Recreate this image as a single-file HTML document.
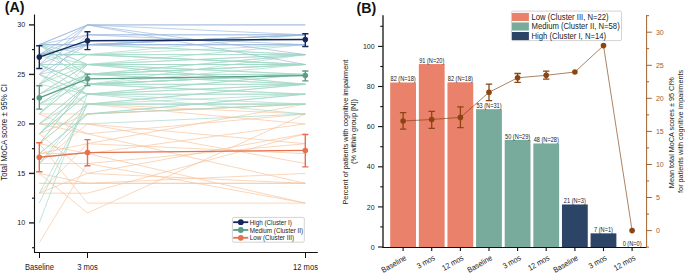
<!DOCTYPE html><html><head><meta charset="utf-8"><style>html,body{margin:0;padding:0;background:#fff;}svg{display:block;}text{font-family:"Liberation Sans", sans-serif;}</style></head><body>
<svg width="685" height="275" viewBox="0 0 685 275">
<rect width="685" height="275" fill="#fff"/>
<text x="4.8" y="11.9" font-size="14.2" font-weight="bold" fill="#111">(A)</text>
<text x="356.6" y="12.7" font-size="14.2" font-weight="bold" fill="#111">(B)</text>
<g fill="none" stroke-width="0.75" stroke-opacity="0.9"><path d="M39.3,143.7L87.45,104.1L305.3,123.9" stroke="#f7c39c"/>
<path d="M39.3,193.2L87.45,193.2L305.3,133.8" stroke="#f7c39c"/>
<path d="M39.3,183.3L87.45,183.3L305.3,183.3" stroke="#f7c39c"/>
<path d="M39.3,183.3L87.45,183.3L305.3,173.4" stroke="#f7c39c"/>
<path d="M39.3,153.6L87.45,143.7L305.3,153.6" stroke="#f7c39c"/>
<path d="M39.3,173.4L87.45,213.0L305.3,114.0" stroke="#f7c39c"/>
<path d="M39.3,133.8L87.45,173.4L305.3,183.3" stroke="#f7c39c"/>
<path d="M39.3,173.4L87.45,183.3L305.3,183.3" stroke="#f7c39c"/>
<path d="M39.3,114.0L87.45,133.8L305.3,183.3" stroke="#f7c39c"/>
<path d="M39.3,114.0L87.45,114.0L305.3,104.1" stroke="#f7c39c"/>
<path d="M39.3,242.7L87.45,163.5L305.3,143.7" stroke="#f7c39c"/>
<path d="M39.3,193.2L87.45,173.4L305.3,133.8" stroke="#f7c39c"/>
<path d="M39.3,193.2L87.45,143.7L305.3,104.1" stroke="#f7c39c"/>
<path d="M39.3,143.7L87.45,153.6L305.3,123.9" stroke="#f7c39c"/>
<path d="M39.3,163.5L87.45,123.9L305.3,163.5" stroke="#f7c39c"/>
<path d="M39.3,123.9L87.45,133.8L305.3,114.0" stroke="#f7c39c"/>
<path d="M39.3,123.9L87.45,123.9L305.3,143.7" stroke="#f7c39c"/>
<path d="M39.3,143.7L87.45,203.1L305.3,203.1" stroke="#f7c39c"/>
<path d="M39.3,133.8L87.45,114.0L305.3,104.1" stroke="#f7c39c"/>
<path d="M39.3,163.5L87.45,163.5L305.3,203.1" stroke="#f7c39c"/>
<path d="M39.3,153.6L87.45,153.6L305.3,203.1" stroke="#f7c39c"/>
<path d="M39.3,104.1L87.45,104.1L305.3,114.0" stroke="#f7c39c"/>
<path d="M39.3,123.9L87.45,94.2L305.3,94.2" stroke="#a2d8c6"/>
<path d="M39.3,44.7L87.45,74.4L305.3,74.4" stroke="#a2d8c6"/>
<path d="M39.3,84.3L87.45,54.6L305.3,64.5" stroke="#a2d8c6"/>
<path d="M39.3,123.9L87.45,84.3L305.3,74.4" stroke="#a2d8c6"/>
<path d="M39.3,44.7L87.45,64.5L305.3,74.4" stroke="#a2d8c6"/>
<path d="M39.3,74.4L87.45,104.1L305.3,104.1" stroke="#a2d8c6"/>
<path d="M39.3,104.1L87.45,104.1L305.3,84.3" stroke="#a2d8c6"/>
<path d="M39.3,74.4L87.45,64.5L305.3,64.5" stroke="#a2d8c6"/>
<path d="M39.3,163.5L87.45,104.1L305.3,104.1" stroke="#a2d8c6"/>
<path d="M39.3,203.1L87.45,104.1L305.3,84.3" stroke="#a2d8c6"/>
<path d="M39.3,222.9L87.45,94.2L305.3,94.2" stroke="#a2d8c6"/>
<path d="M39.3,64.5L87.45,64.5L305.3,44.7" stroke="#a2d8c6"/>
<path d="M39.3,54.6L87.45,74.4L305.3,64.5" stroke="#a2d8c6"/>
<path d="M39.3,84.3L87.45,54.6L305.3,34.8" stroke="#a2d8c6"/>
<path d="M39.3,54.6L87.45,54.6L305.3,54.6" stroke="#a2d8c6"/>
<path d="M39.3,64.5L87.45,84.3L305.3,84.3" stroke="#a2d8c6"/>
<path d="M39.3,54.6L87.45,54.6L305.3,44.7" stroke="#a2d8c6"/>
<path d="M39.3,143.7L87.45,84.3L305.3,74.4" stroke="#a2d8c6"/>
<path d="M39.3,74.4L87.45,94.2L305.3,114.0" stroke="#a2d8c6"/>
<path d="M39.3,114.0L87.45,74.4L305.3,74.4" stroke="#a2d8c6"/>
<path d="M39.3,64.5L87.45,84.3L305.3,94.2" stroke="#a2d8c6"/>
<path d="M39.3,64.5L87.45,84.3L305.3,54.6" stroke="#a2d8c6"/>
<path d="M39.3,74.4L87.45,94.2L305.3,74.4" stroke="#a2d8c6"/>
<path d="M39.3,64.5L87.45,94.2L305.3,74.4" stroke="#a2d8c6"/>
<path d="M39.3,114.0L87.45,74.4L305.3,84.3" stroke="#a2d8c6"/>
<path d="M39.3,54.6L87.45,54.6L305.3,64.5" stroke="#a2d8c6"/>
<path d="M39.3,94.2L87.45,74.4L305.3,84.3" stroke="#a2d8c6"/>
<path d="M39.3,153.6L87.45,114.0L305.3,94.2" stroke="#a2d8c6"/>
<path d="M39.3,94.2L87.45,64.5L305.3,54.6" stroke="#a2d8c6"/>
<path d="M39.3,123.9L87.45,123.9L305.3,114.0" stroke="#a2d8c6"/>
<path d="M39.3,44.7L87.45,44.7L305.3,34.8" stroke="#a2d8c6"/>
<path d="M39.3,104.1L87.45,74.4L305.3,54.6" stroke="#a2d8c6"/>
<path d="M39.3,153.6L87.45,114.0L305.3,104.1" stroke="#a2d8c6"/>
<path d="M39.3,143.7L87.45,84.3L305.3,64.5" stroke="#a2d8c6"/>
<path d="M39.3,54.6L87.45,44.7L305.3,54.6" stroke="#a2d8c6"/>
<path d="M39.3,133.8L87.45,84.3L305.3,74.4" stroke="#a2d8c6"/>
<path d="M39.3,54.6L87.45,64.5L305.3,84.3" stroke="#a2d8c6"/>
<path d="M39.3,44.7L87.45,54.6L305.3,64.5" stroke="#a2d8c6"/>
<path d="M39.3,54.6L87.45,54.6L305.3,54.6" stroke="#a2d8c6"/>
<path d="M39.3,44.7L87.45,74.4L305.3,54.6" stroke="#a2d8c6"/>
<path d="M39.3,104.1L87.45,84.3L305.3,74.4" stroke="#a2d8c6"/>
<path d="M39.3,104.1L87.45,74.4L305.3,64.5" stroke="#a2d8c6"/>
<path d="M39.3,84.3L87.45,94.2L305.3,84.3" stroke="#a2d8c6"/>
<path d="M39.3,44.7L87.45,44.7L305.3,54.6" stroke="#a2d8c6"/>
<path d="M39.3,114.0L87.45,64.5L305.3,84.3" stroke="#a2d8c6"/>
<path d="M39.3,44.7L87.45,84.3L305.3,84.3" stroke="#a2d8c6"/>
<path d="M39.3,193.2L87.45,104.1L305.3,94.2" stroke="#a2d8c6"/>
<path d="M39.3,44.7L87.45,64.5L305.3,64.5" stroke="#a2d8c6"/>
<path d="M39.3,123.9L87.45,84.3L305.3,94.2" stroke="#a2d8c6"/>
<path d="M39.3,143.7L87.45,104.1L305.3,104.1" stroke="#a2d8c6"/>
<path d="M39.3,64.5L87.45,64.5L305.3,74.4" stroke="#a2d8c6"/>
<path d="M39.3,133.8L87.45,84.3L305.3,74.4" stroke="#a2d8c6"/>
<path d="M39.3,84.3L87.45,64.5L305.3,54.6" stroke="#a2d8c6"/>
<path d="M39.3,133.8L87.45,94.2L305.3,84.3" stroke="#a2d8c6"/>
<path d="M39.3,163.5L87.45,114.0L305.3,94.2" stroke="#a2d8c6"/>
<path d="M39.3,133.8L87.45,94.2L305.3,104.1" stroke="#a2d8c6"/>
<path d="M39.3,94.2L87.45,74.4L305.3,64.5" stroke="#a2d8c6"/>
<path d="M39.3,94.2L87.45,64.5L305.3,64.5" stroke="#a2d8c6"/>
<path d="M39.3,44.7L87.45,24.9L305.3,24.9" stroke="#9bb8dd"/>
<path d="M39.3,44.7L87.45,24.9L305.3,24.9" stroke="#9bb8dd"/>
<path d="M39.3,54.6L87.45,24.9L305.3,34.8" stroke="#9bb8dd"/>
<path d="M39.3,64.5L87.45,24.9L305.3,54.6" stroke="#9bb8dd"/>
<path d="M39.3,74.4L87.45,24.9L305.3,64.5" stroke="#9bb8dd"/>
<path d="M39.3,44.7L87.45,34.8L305.3,34.8" stroke="#9bb8dd"/>
<path d="M39.3,54.6L87.45,34.8L305.3,44.7" stroke="#9bb8dd"/>
<path d="M39.3,84.3L87.45,34.8L305.3,34.8" stroke="#9bb8dd"/>
<path d="M39.3,44.7L87.45,44.7L305.3,34.8" stroke="#9bb8dd"/>
<path d="M39.3,54.6L87.45,44.7L305.3,44.7" stroke="#9bb8dd"/>
<path d="M39.3,64.5L87.45,44.7L305.3,44.7" stroke="#9bb8dd"/>
<path d="M39.3,74.4L87.45,44.7L305.3,34.8" stroke="#9bb8dd"/>
<path d="M39.3,44.7L87.45,44.7L305.3,44.7" stroke="#9bb8dd"/>
<path d="M39.3,54.6L87.45,44.7L305.3,34.8" stroke="#9bb8dd"/></g>
<path d="M39.3,57.1 L87.5,40.7 L305.3,39.5" fill="none" stroke="#14295a" stroke-width="1.4"/>
<path d="M39.3,45.7V68.5M36.2,45.7H42.4M36.2,68.5H42.4" stroke="#14295a" stroke-width="1.4" fill="none"/>
<circle cx="39.3" cy="57.08" r="2.8" fill="#14295a"/>
<path d="M87.5,31.8V49.6M84.4,31.8H90.5M84.4,49.6H90.5" stroke="#14295a" stroke-width="1.4" fill="none"/>
<circle cx="87.5" cy="40.74" r="2.8" fill="#14295a"/>
<path d="M305.3,33.8V46.5M302.2,33.8H308.4M302.2,46.5H308.4" stroke="#14295a" stroke-width="1.4" fill="none"/>
<circle cx="305.3" cy="39.45" r="2.8" fill="#14295a"/>
<path d="M39.3,97.8 L87.5,78.9 L305.3,75.6" fill="none" stroke="#5c9c87" stroke-width="1.4"/>
<path d="M39.3,85.8V109.1M36.2,85.8H42.4M36.2,109.1H42.4" stroke="#5c9c87" stroke-width="1.4" fill="none"/>
<circle cx="39.3" cy="97.76" r="2.8" fill="#5c9c87"/>
<path d="M87.5,74.1V85.6M84.4,74.1H90.5M84.4,85.6H90.5" stroke="#5c9c87" stroke-width="1.4" fill="none"/>
<circle cx="87.5" cy="78.85" r="2.8" fill="#5c9c87"/>
<path d="M305.3,71.0V80.9M302.2,71.0H308.4M302.2,80.9H308.4" stroke="#5c9c87" stroke-width="1.4" fill="none"/>
<circle cx="305.3" cy="75.59" r="2.8" fill="#5c9c87"/>
<path d="M39.3,157.3 L87.5,152.6 L305.3,150.4" fill="none" stroke="#e5714f" stroke-width="1.4"/>
<path d="M39.3,142.7V171.8M36.2,142.7H42.4M36.2,171.8H42.4" stroke="#e5714f" stroke-width="1.4" fill="none"/>
<circle cx="39.3" cy="157.26" r="2.8" fill="#e5714f"/>
<path d="M87.5,139.6V165.7M84.4,139.6H90.5M84.4,165.7H90.5" stroke="#e5714f" stroke-width="1.4" fill="none"/>
<circle cx="87.5" cy="152.61" r="2.8" fill="#e5714f"/>
<path d="M305.3,134.5V166.9M302.2,134.5H308.4M302.2,166.9H308.4" stroke="#e5714f" stroke-width="1.4" fill="none"/>
<circle cx="305.3" cy="150.43" r="2.8" fill="#e5714f"/>
<path d="M34.5,14.5V252.5H317.8" fill="none" stroke="#111" stroke-width="1.1"/>
<path d="M29.0,222.9H34.5" stroke="#222" stroke-width="1.4"/>
<text transform="translate(25.2,225.1) scale(0.9,1)" font-size="8.0" text-anchor="end" fill="#222">10</text>
<path d="M29.0,173.4H34.5" stroke="#222" stroke-width="1.4"/>
<text transform="translate(25.2,175.6) scale(0.9,1)" font-size="8.0" text-anchor="end" fill="#222">15</text>
<path d="M29.0,123.9H34.5" stroke="#222" stroke-width="1.4"/>
<text transform="translate(25.2,126.1) scale(0.9,1)" font-size="8.0" text-anchor="end" fill="#222">20</text>
<path d="M29.0,74.4H34.5" stroke="#222" stroke-width="1.4"/>
<text transform="translate(25.2,76.6) scale(0.9,1)" font-size="8.0" text-anchor="end" fill="#222">25</text>
<path d="M29.0,24.9H34.5" stroke="#222" stroke-width="1.4"/>
<text transform="translate(25.2,27.1) scale(0.9,1)" font-size="8.0" text-anchor="end" fill="#222">30</text>
<path d="M32.0,247.7H34.5" stroke="#222" stroke-width="1.2"/>
<path d="M32.0,198.2H34.5" stroke="#222" stroke-width="1.2"/>
<path d="M32.0,148.7H34.5" stroke="#222" stroke-width="1.2"/>
<path d="M32.0,99.2H34.5" stroke="#222" stroke-width="1.2"/>
<path d="M32.0,49.6H34.5" stroke="#222" stroke-width="1.2"/>
<path d="M39.5,252.5V258.0" stroke="#111" stroke-width="1.05"/>
<text transform="translate(39.5,269.9) scale(0.9,1)" font-size="8.45" text-anchor="middle" fill="#1a1a1a">Baseline</text>
<path d="M87.5,252.5V258.0" stroke="#111" stroke-width="1.05"/>
<text transform="translate(87.5,269.9) scale(0.9,1)" font-size="8.45" text-anchor="middle" fill="#1a1a1a">3 mos</text>
<path d="M305.5,252.5V258.0" stroke="#111" stroke-width="1.05"/>
<text transform="translate(305.5,269.9) scale(0.9,1)" font-size="8.45" text-anchor="middle" fill="#1a1a1a">12 mos</text>
<text transform="translate(6.7,132.4) rotate(-90) scale(0.92,1)" font-size="8.6" text-anchor="middle" fill="#222">Total MoCA score ± 95% CI</text>
<rect x="232.4" y="217.4" width="71.9" height="24.8" rx="1.5" fill="#fff" stroke="#c8c8c8" stroke-width="0.8"/>
<path d="M233.2,222.2H248.3" stroke="#14295a" stroke-width="1.8"/>
<circle cx="240.8" cy="222.2" r="2.9" fill="#14295a"/>
<text transform="translate(249.8,224.7) scale(0.91,1)" font-size="6.9" fill="#222">High (Cluster I)</text>
<path d="M233.2,230.0H248.3" stroke="#5c9c87" stroke-width="1.8"/>
<circle cx="240.8" cy="230.0" r="2.9" fill="#5c9c87"/>
<text transform="translate(249.8,232.5) scale(0.91,1)" font-size="6.9" fill="#222">Medium (Cluster II)</text>
<path d="M233.2,237.79999999999998H248.3" stroke="#e5714f" stroke-width="1.8"/>
<circle cx="240.8" cy="237.79999999999998" r="2.9" fill="#e5714f"/>
<text transform="translate(249.8,240.3) scale(0.91,1)" font-size="6.9" fill="#222">Low (Cluster III)</text>
<rect x="390.20" y="82.51" width="25.8" height="164.99" fill="#ea816a"/>
<text transform="translate(403.10,81.21) scale(0.88,1)" font-size="6.4" text-anchor="middle" fill="#1a1a1a">82 (N=18)</text>
<rect x="418.83" y="64.05" width="25.8" height="183.45" fill="#ea816a"/>
<text transform="translate(431.73,62.75) scale(0.88,1)" font-size="6.4" text-anchor="middle" fill="#1a1a1a">91 (N=20)</text>
<rect x="447.45" y="82.31" width="25.8" height="165.19" fill="#ea816a"/>
<text transform="translate(460.35,81.01) scale(0.88,1)" font-size="6.4" text-anchor="middle" fill="#1a1a1a">82 (N=18)</text>
<rect x="476.08" y="109.19" width="25.8" height="138.31" fill="#78ab9b"/>
<text transform="translate(488.98,107.89) scale(0.88,1)" font-size="6.4" text-anchor="middle" fill="#1a1a1a">53 (N=31)</text>
<rect x="504.70" y="139.88" width="25.8" height="107.62" fill="#78ab9b"/>
<text transform="translate(517.60,138.58) scale(0.88,1)" font-size="6.4" text-anchor="middle" fill="#1a1a1a">50 (N=29)</text>
<rect x="533.33" y="143.49" width="25.8" height="104.01" fill="#78ab9b"/>
<text transform="translate(546.23,142.19) scale(0.88,1)" font-size="6.4" text-anchor="middle" fill="#1a1a1a">48 (N=28)</text>
<rect x="561.95" y="204.47" width="25.8" height="43.03" fill="#2c4466"/>
<text transform="translate(574.85,203.17) scale(0.88,1)" font-size="6.4" text-anchor="middle" fill="#1a1a1a">21 (N=3)</text>
<rect x="590.58" y="233.36" width="25.8" height="14.14" fill="#2c4466"/>
<text transform="translate(603.48,232.06) scale(0.88,1)" font-size="6.4" text-anchor="middle" fill="#1a1a1a">7 (N=1)</text>
<text transform="translate(632.10,245.70) scale(0.88,1)" font-size="6.4" text-anchor="middle" fill="#1a1a1a">0 (N=0)</text>
<path d="M403.1,121.0 L431.7,119.5 L460.4,117.4 L489.0,92.3 L517.6,77.8 L546.2,75.3 L574.9,72.0 L603.5,45.6 L632.1,230.6" fill="none" stroke="#80400f" stroke-width="0.65"/>
<path d="M403.1,112.6V129.2M399.9,112.6H406.3M399.9,129.2H406.3" stroke="#8b4513" stroke-width="1.3" fill="none"/>
<circle cx="403.1" cy="121.0" r="2.8" fill="#8b4513"/>
<path d="M431.7,111.4V128.3M428.5,111.4H434.9M428.5,128.3H434.9" stroke="#8b4513" stroke-width="1.3" fill="none"/>
<circle cx="431.7" cy="119.5" r="2.8" fill="#8b4513"/>
<path d="M460.4,106.8V127.7M457.2,106.8H463.6M457.2,127.7H463.6" stroke="#8b4513" stroke-width="1.3" fill="none"/>
<circle cx="460.4" cy="117.4" r="2.8" fill="#8b4513"/>
<path d="M489.0,84.2V100.7M485.8,84.2H492.2M485.8,100.7H492.2" stroke="#8b4513" stroke-width="1.3" fill="none"/>
<circle cx="489.0" cy="92.3" r="2.8" fill="#8b4513"/>
<path d="M517.6,73.5V82.4M514.4,73.5H520.8M514.4,82.4H520.8" stroke="#8b4513" stroke-width="1.3" fill="none"/>
<circle cx="517.6" cy="77.8" r="2.8" fill="#8b4513"/>
<path d="M546.2,71.2V79.1M543.0,71.2H549.4M543.0,79.1H549.4" stroke="#8b4513" stroke-width="1.3" fill="none"/>
<circle cx="546.2" cy="75.3" r="2.8" fill="#8b4513"/>
<circle cx="574.9" cy="72.0" r="2.8" fill="#8b4513"/>
<circle cx="603.5" cy="45.6" r="2.8" fill="#8b4513"/>
<circle cx="632.1" cy="230.6" r="2.8" fill="#8b4513"/>
<path d="M383.0,15.3V247.5" fill="none" stroke="#111" stroke-width="1.3"/>
<path d="M382.4,247.5H646.6" fill="none" stroke="#111" stroke-width="1.1"/>
<path d="M378.0,247.0H383.0" stroke="#111" stroke-width="1.1"/>
<text transform="translate(374.6,249.6) scale(0.9,1)" font-size="7.8" text-anchor="end" fill="#222">0</text>
<path d="M378.0,206.9H383.0" stroke="#111" stroke-width="1.1"/>
<text transform="translate(374.6,209.5) scale(0.9,1)" font-size="7.8" text-anchor="end" fill="#222">20</text>
<path d="M378.0,166.8H383.0" stroke="#111" stroke-width="1.1"/>
<text transform="translate(374.6,169.4) scale(0.9,1)" font-size="7.8" text-anchor="end" fill="#222">40</text>
<path d="M378.0,126.6H383.0" stroke="#111" stroke-width="1.1"/>
<text transform="translate(374.6,129.2) scale(0.9,1)" font-size="7.8" text-anchor="end" fill="#222">60</text>
<path d="M378.0,86.5H383.0" stroke="#111" stroke-width="1.1"/>
<text transform="translate(374.6,89.1) scale(0.9,1)" font-size="7.8" text-anchor="end" fill="#222">80</text>
<path d="M378.0,46.4H383.0" stroke="#111" stroke-width="1.1"/>
<text transform="translate(374.6,49.0) scale(0.9,1)" font-size="7.8" text-anchor="end" fill="#222">100</text>
<path d="M380.3,226.9H383.0" stroke="#111" stroke-width="1.1"/>
<path d="M380.3,186.8H383.0" stroke="#111" stroke-width="1.1"/>
<path d="M380.3,146.7H383.0" stroke="#111" stroke-width="1.1"/>
<path d="M380.3,106.6H383.0" stroke="#111" stroke-width="1.1"/>
<path d="M380.3,66.5H383.0" stroke="#111" stroke-width="1.1"/>
<path d="M380.3,26.3H383.0" stroke="#111" stroke-width="1.1"/>
<path d="M403.1,247.5V251.1" stroke="#111" stroke-width="1.1"/>
<text transform="translate(407.0,259.4) rotate(-30) scale(0.89,1)" font-size="8.0" text-anchor="end" fill="#222">Baseline</text>
<path d="M431.7,247.5V251.1" stroke="#111" stroke-width="1.1"/>
<text transform="translate(435.6,259.4) rotate(-30) scale(0.89,1)" font-size="8.0" text-anchor="end" fill="#222">3 mos</text>
<path d="M460.4,247.5V251.1" stroke="#111" stroke-width="1.1"/>
<text transform="translate(464.2,259.4) rotate(-30) scale(0.89,1)" font-size="8.0" text-anchor="end" fill="#222">12 mos</text>
<path d="M489.0,247.5V251.1" stroke="#111" stroke-width="1.1"/>
<text transform="translate(492.9,259.4) rotate(-30) scale(0.89,1)" font-size="8.0" text-anchor="end" fill="#222">Baseline</text>
<path d="M517.6,247.5V251.1" stroke="#111" stroke-width="1.1"/>
<text transform="translate(521.5,259.4) rotate(-30) scale(0.89,1)" font-size="8.0" text-anchor="end" fill="#222">3 mos</text>
<path d="M546.2,247.5V251.1" stroke="#111" stroke-width="1.1"/>
<text transform="translate(550.1,259.4) rotate(-30) scale(0.89,1)" font-size="8.0" text-anchor="end" fill="#222">12 mos</text>
<path d="M574.9,247.5V251.1" stroke="#111" stroke-width="1.1"/>
<text transform="translate(578.8,259.4) rotate(-30) scale(0.89,1)" font-size="8.0" text-anchor="end" fill="#222">Baseline</text>
<path d="M603.5,247.5V251.1" stroke="#111" stroke-width="1.1"/>
<text transform="translate(607.4,259.4) rotate(-30) scale(0.89,1)" font-size="8.0" text-anchor="end" fill="#222">3 mos</text>
<path d="M632.1,247.5V251.1" stroke="#111" stroke-width="1.1"/>
<text transform="translate(636.0,259.4) rotate(-30) scale(0.89,1)" font-size="8.0" text-anchor="end" fill="#222">12 mos</text>
<path d="M646.6,15.1V247.5" fill="none" stroke="#a4602a" stroke-width="1.0"/>
<path d="M646.6,230.6H651.8000000000001" stroke="#a4602a" stroke-width="1"/>
<text transform="translate(655.9,233.3) scale(0.92,1)" font-size="7.7" fill="#a4602a">0</text>
<path d="M646.6,197.5H651.8000000000001" stroke="#a4602a" stroke-width="1"/>
<text transform="translate(655.9,200.2) scale(0.92,1)" font-size="7.7" fill="#a4602a">5</text>
<path d="M646.6,164.5H651.8000000000001" stroke="#a4602a" stroke-width="1"/>
<text transform="translate(655.9,167.2) scale(0.92,1)" font-size="7.7" fill="#a4602a">10</text>
<path d="M646.6,131.4H651.8000000000001" stroke="#a4602a" stroke-width="1"/>
<text transform="translate(655.9,134.1) scale(0.92,1)" font-size="7.7" fill="#a4602a">15</text>
<path d="M646.6,98.3H651.8000000000001" stroke="#a4602a" stroke-width="1"/>
<text transform="translate(655.9,101.0) scale(0.92,1)" font-size="7.7" fill="#a4602a">20</text>
<path d="M646.6,65.3H651.8000000000001" stroke="#a4602a" stroke-width="1"/>
<text transform="translate(655.9,68.0) scale(0.92,1)" font-size="7.7" fill="#a4602a">25</text>
<path d="M646.6,32.2H651.8000000000001" stroke="#a4602a" stroke-width="1"/>
<text transform="translate(655.9,34.9) scale(0.92,1)" font-size="7.7" fill="#a4602a">30</text>
<path d="M646.6,247.1H649.1" stroke="#a4602a" stroke-width="1"/>
<path d="M646.6,214.1H649.1" stroke="#a4602a" stroke-width="1"/>
<path d="M646.6,181.0H649.1" stroke="#a4602a" stroke-width="1"/>
<path d="M646.6,147.9H649.1" stroke="#a4602a" stroke-width="1"/>
<path d="M646.6,114.9H649.1" stroke="#a4602a" stroke-width="1"/>
<path d="M646.6,81.8H649.1" stroke="#a4602a" stroke-width="1"/>
<path d="M646.6,48.7H649.1" stroke="#a4602a" stroke-width="1"/>
<path d="M646.6,15.7H649.1" stroke="#a4602a" stroke-width="1"/>
<text transform="translate(347.6,132.1) rotate(-90) scale(0.92,1)" font-size="7.95" text-anchor="middle" fill="#222">Percent of patients with cognitive impairment</text>
<text transform="translate(356.4,131.5) rotate(-90) scale(0.92,1)" font-size="8.05" text-anchor="middle" fill="#222">(% within group [N])</text>
<text transform="translate(674.4,132.7) rotate(-90) scale(0.92,1)" font-size="7.9" text-anchor="middle" fill="#222">Mean total MoCA scores ± 95 CI%</text>
<text transform="translate(683.3,131.4) rotate(-90) scale(0.92,1)" font-size="7.9" text-anchor="middle" fill="#222">for patients with cognitive impairments</text>
<rect x="511.4" y="11.1" width="110.1" height="29.5" rx="1.5" fill="#fff" stroke="#c8c8c8" stroke-width="0.8"/>
<rect x="511.9" y="12.90" width="17" height="8.1" fill="#ea816a"/>
<text transform="translate(531.5,19.90) scale(0.9,1)" font-size="8.55" fill="#222">Low (Cluster III, N=22)</text>
<rect x="511.9" y="22.45" width="17" height="8.1" fill="#78ab9b"/>
<text transform="translate(531.5,29.45) scale(0.9,1)" font-size="8.55" fill="#222">Medium (Cluster II, N=58)</text>
<rect x="511.9" y="32.00" width="17" height="8.1" fill="#2c4466"/>
<text transform="translate(531.5,39.00) scale(0.9,1)" font-size="8.55" fill="#222">High (Cluster I, N=14)</text>
</svg></body></html>
